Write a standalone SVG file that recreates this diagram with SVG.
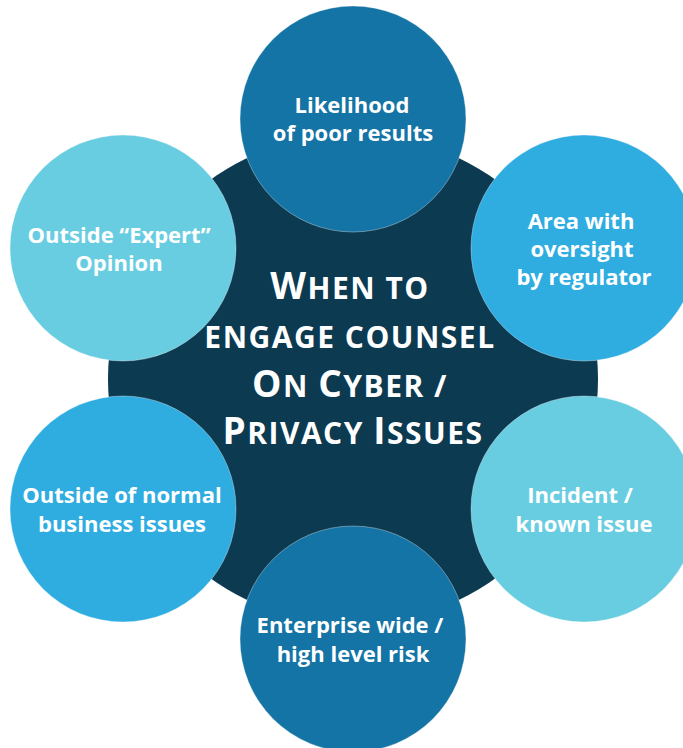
<svg xmlns="http://www.w3.org/2000/svg" width="683" height="748" viewBox="0 0 683 748">
  <style>
    .hub { fill: #0B3A51; }
    .dark { fill: #1474A5; }
    .mid { fill: #2FADE0; }
    .light { fill: #69CDE1; }
    .sat { stroke: #ffffff; stroke-width: 1; stroke-opacity: 0.35; }
    .label { font-family: "Open Sans", "Noto Sans", "Liberation Sans", sans-serif; font-weight: 700; font-size: 22px; fill: #ffffff; text-anchor: middle; }
    .title { font-family: "Open Sans", "Noto Sans", "Liberation Sans", sans-serif; font-weight: 700; font-size: 30px; letter-spacing: 1.5px; fill: #ffffff; text-anchor: middle; }
    .cap { font-size: 37px; }
  </style>
  <rect width="683" height="748" fill="#ffffff"/>

  <!-- central hub -->
  <g id="hub">
    <circle class="hub" cx="353" cy="379" r="245"/>
    <text class="title" x="350" y="299"><tspan class="cap">W</tspan>HEN TO</text>
    <text class="title" x="350" y="348">ENGAGE COUNSEL</text>
    <text class="title" x="350" y="397"><tspan class="cap">O</tspan>N <tspan class="cap">C</tspan>YBER /</text>
    <text class="title" x="353" y="444"><tspan class="cap">P</tspan>RIVACY <tspan class="cap">I</tspan>SSUES</text>
  </g>

  <!-- surrounding topics -->
  <g id="likelihood">
    <circle class="dark sat" cx="353" cy="119" r="113"/>
    <text class="label" x="352" y="113">Likelihood</text>
    <text class="label" x="353" y="141">of poor results</text>
  </g>

  <g id="regulator">
    <circle class="mid sat" cx="584" cy="248" r="113"/>
    <text class="label" x="581" y="229">Area with</text>
    <text class="label" x="582" y="257">oversight</text>
    <text class="label" x="584" y="285">by regulator</text>
  </g>

  <g id="incident">
    <circle class="light sat" cx="584" cy="509" r="113"/>
    <text class="label" x="580" y="503">Incident /</text>
    <text class="label" x="584" y="532">known issue</text>
  </g>

  <g id="enterprise">
    <circle class="dark sat" cx="353" cy="639" r="113"/>
    <text class="label" x="350" y="633">Enterprise wide /</text>
    <text class="label" x="353" y="662">high level risk</text>
  </g>

  <g id="outside-normal">
    <circle class="mid sat" cx="123" cy="509" r="113"/>
    <text class="label" x="122" y="503">Outside of normal</text>
    <text class="label" x="122" y="532">business issues</text>
  </g>

  <g id="expert">
    <circle class="light sat" cx="123" cy="248" r="113"/>
    <text class="label" x="119" y="243">Outside “Expert”</text>
    <text class="label" x="119" y="271">Opinion</text>
  </g>

  <g id="connectors"></g>
</svg>
